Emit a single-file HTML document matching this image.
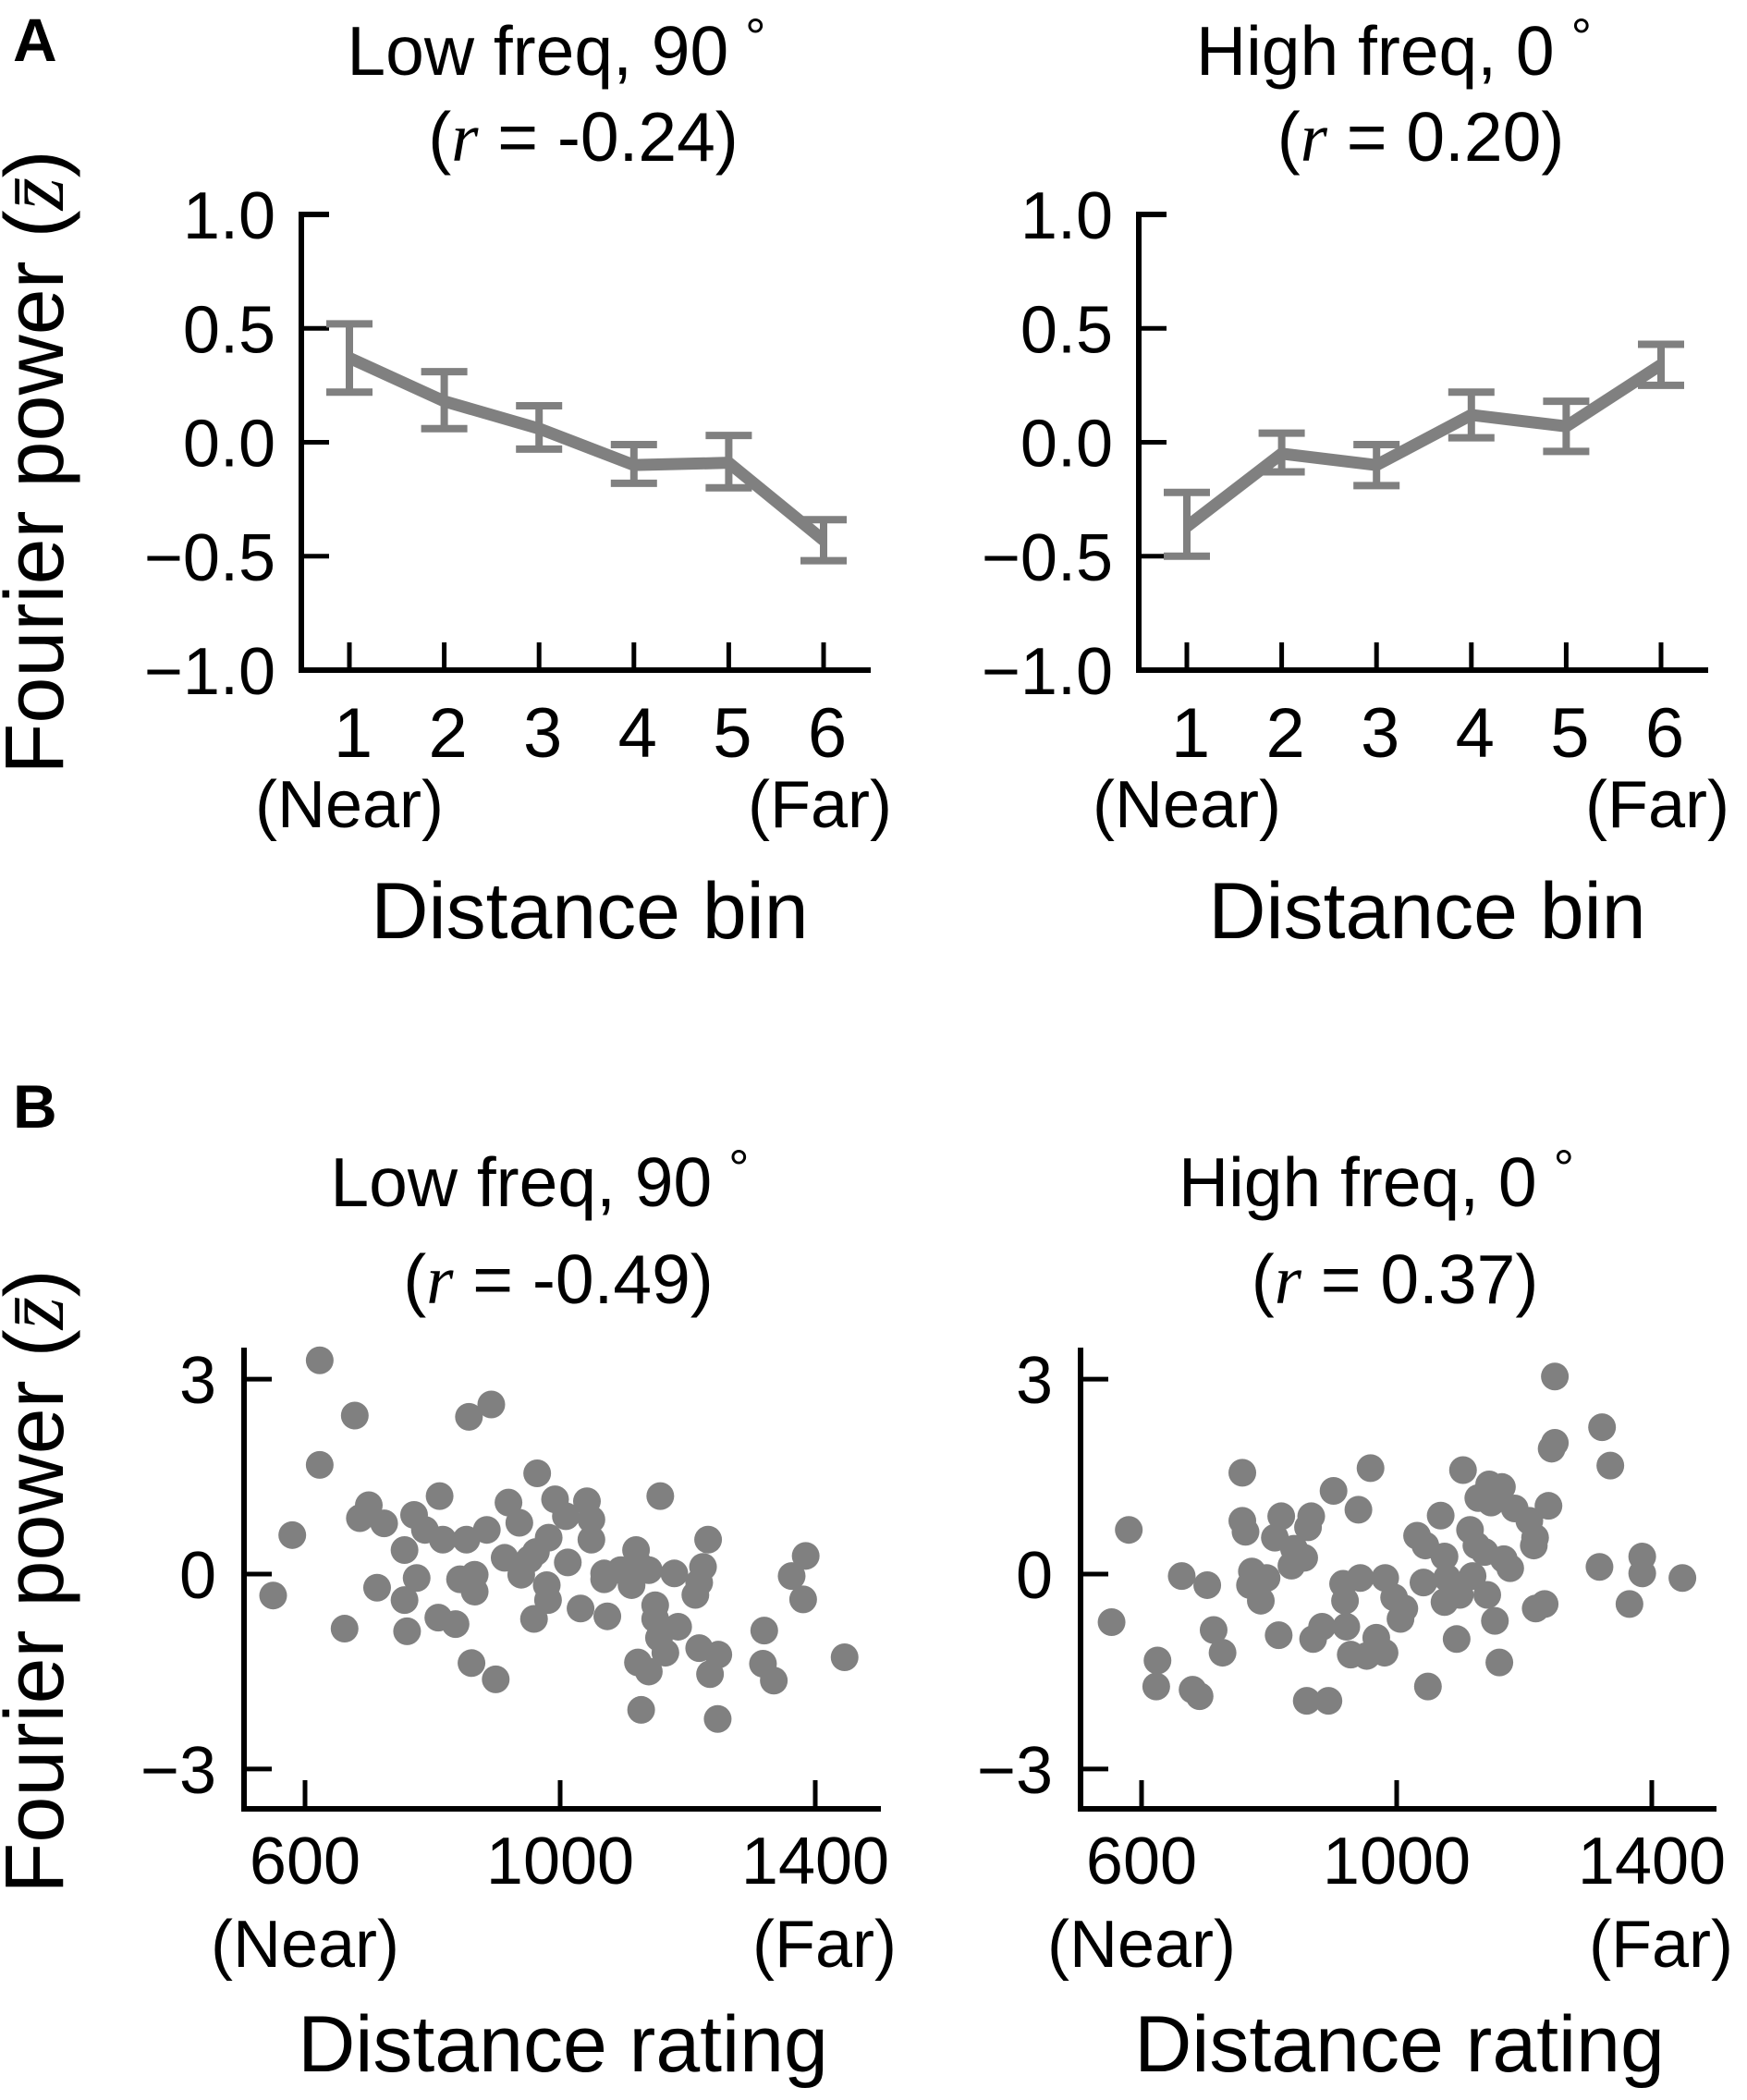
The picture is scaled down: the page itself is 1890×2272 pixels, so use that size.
<!DOCTYPE html>
<html><head><meta charset="utf-8"><style>
html,body{margin:0;padding:0;background:#fff;}
svg{display:block;font-family:"Liberation Sans",Arial,sans-serif;}
.t{font-size:75px;fill:#000;}
.tk{font-size:72px;fill:#000;}
.ax{font-size:86px;fill:#000;}
.m{font-family:"Liberation Serif",serif;font-style:italic;}
</style></head><body>
<svg id="fig" width="1890" height="2272" viewBox="0 0 1890 2272">
<text x="14" y="66" font-size="66" font-weight="bold">A</text>
<text x="14" y="1220" font-size="66" font-weight="bold">B</text>
<text class="ax" style="font-size:90px" transform="translate(68,500) rotate(-90)" text-anchor="middle">Fourier power (<tspan class="m">z̄</tspan>)</text>
<text class="ax" style="font-size:90px" transform="translate(68,1711) rotate(-90)" text-anchor="middle">Fourier power (<tspan class="m">z̄</tspan>)</text>
<g id="layer"></g>
</svg>
<script>
// Panel A: binned data
const bins = [1, 2, 3, 4, 5, 6];
const binLabels = ["1", "2", "3", "4", "5", "6"];
const lowMean = [0.37, 0.18, 0.06, -0.10, -0.09, -0.43];
const lowHi = [0.52, 0.31, 0.16, -0.01, 0.03, -0.34];
const lowLo = [0.22, 0.06, -0.03, -0.18, -0.20, -0.52];
const highMean = [-0.37, -0.05, -0.10, 0.12, 0.07, 0.34];
const highHi = [-0.22, 0.04, -0.01, 0.22, 0.18, 0.43];
const highLo = [-0.50, -0.13, -0.19, 0.02, -0.04, 0.25];
const yTicksA = [1.0, 0.5, 0.0, -0.5, -1.0];
const yTickLabelsA = ["1.0", "0.5", "0.0", "\u22120.5", "\u22121.0"];
// Panel B: scatter data
const lowRating = [623,678,857,892,623,964,811,1157,580,700,686,724,771,788,756,816,853,885,919,936,992,1009,1042,1049,1049,982,913,952,939,1012,775,843,866,866,713,756,550,1232,1119,1224,1385,1363,1381,1069,1095,1112,1139,1179,1212,1218,979,981,959,1032,1074,809,836,662,760,1149,1149,1185,1165,1218,1248,1235,1122,1139,1320,1318,1335,1446,861,899,1127,1247,1155,1069,962,1122];
const lowPower = [3.29,2.44,2.42,2.61,1.68,1.55,1.20,1.20,0.60,1.06,0.86,0.78,0.91,0.68,0.37,0.53,0.53,0.68,1.10,0.79,1.15,0.89,1.12,0.84,0.53,0.56,0.25,0.23,-0.01,0.18,-0.06,-0.08,-0.01,-0.27,-0.21,-0.40,-0.33,0.53,0.37,0.11,0.28,-0.03,-0.39,0.01,0.06,-0.17,0.06,0.01,-0.32,-0.13,-0.17,-0.40,-0.69,-0.53,-0.65,-0.67,-0.77,-0.84,-0.88,-0.48,-0.69,-0.81,-1.21,-1.14,-1.24,-1.54,-1.36,-1.50,-0.87,-1.38,-1.64,-1.28,-1.37,-1.62,-2.09,-2.23,-0.98,-0.08,0.34,0.16];
const highRating = [1248,1322,1248,1243,1335,758,959,1104,901,940,1145,1165,1128,1148,1185,1238,1208,1069,580,758,763,819,866,861,809,839,855,835,1032,1045,1115,1075,1125,1138,1168,1178,1215,1217,1318,1385,1385,1448,663,703,773,796,770,787,1042,1079,1119,1075,1099,1142,916,943,982,919,996,1012,1006,1232,1218,1365,1154,553,713,727,815,883,869,921,928,953,981,968,1094,1161,625,623,680,691,859,893,1049];
const highPower = [3.04,2.26,2.02,1.93,1.67,1.56,1.63,1.60,1.28,0.99,1.38,1.34,1.17,1.10,1.01,1.05,0.82,0.90,0.68,0.82,0.65,0.89,0.89,0.72,0.56,0.39,0.25,0.13,0.59,0.44,0.68,0.27,0.44,0.34,0.23,0.09,0.44,0.56,0.11,0.27,0.01,-0.06,-0.03,-0.17,0.04,-0.06,-0.17,-0.41,-0.13,-0.06,-0.03,-0.43,-0.32,-0.32,-0.15,-0.06,-0.06,-0.41,-0.36,-0.53,-0.69,-0.46,-0.53,-0.46,-0.72,-0.74,-0.86,-1.21,-0.94,-0.81,-1.00,-0.81,-1.24,-1.26,-1.21,-0.98,-1.00,-1.36,-1.33,-1.73,-1.78,-1.88,-1.95,-1.95,-1.73];
const xTicksB = [600, 1000, 1400];
const xTickLabelsB = ["600", "1000", "1400"];
const yTicksB = [3, 0, -3];
const yTickLabelsB = ["3", "0", "\u22123"];

const NS = "http://www.w3.org/2000/svg";
const layer = document.getElementById('layer');
function mk(tag, attrs, parent) {
  const e = document.createElementNS(NS, tag);
  for (const k in attrs) e.setAttribute(k, attrs[k]);
  (parent || layer).appendChild(e);
  return e;
}
function txt(x, y, s, cls, anchor, parent) {
  const t = mk('text', {x: x, y: y, class: cls, 'text-anchor': anchor || 'middle'}, parent);
  t.textContent = s;
  return t;
}
function titleText(x, y, label, g, name) {
  const t = mk('text', {x: x, y: y, class: 't', 'text-anchor': 'middle'}, g);
  
  
  t.innerHTML = label + '<tspan dx="18" dy="-22" font-size="56">\u00b0</tspan>';
  return t;
}

function linePanel(ox, id, title, rText, mean, hi, lo) {
  const g = mk('g', {});
  
  
  const x0 = ox, x1 = ox + 616;
  const xS = b => ox + 52 + (b - 1) * 102.6;
  const yS = v => 478.5 - v * 246.5;
  titleText(x0 + 276, 81, title, g, id + '-title');
  const rt = mk('text', {x: x0 + 305, y: 174, class: 't', 'text-anchor': 'middle'}, g);
  
  
  rt.innerHTML = '(<tspan class="m">r</tspan> = ' + rText + ')';
  const ya = mk('path', {d: `M${x0 + 30},${yS(1)} H${x0} V${yS(-1)} H${x1}`, fill: 'none', stroke: '#000', 'stroke-width': 6}, g);
  
  
  yTicksA.forEach((v, i) => {
    mk('line', {x1: x0, x2: x0 + 30, y1: yS(v), y2: yS(v), stroke: '#000', 'stroke-width': 5}, g);
    const l = txt(x0 - 28, yS(v) + 26, yTickLabelsA[i], 'tk', 'end', g);
    
    
  });
  bins.forEach((b, i) => {
    mk('line', {x1: xS(b), x2: xS(b), y1: yS(-1), y2: yS(-1) - 30, stroke: '#000', 'stroke-width': 5}, g);
    const l = txt(xS(b) + 4, 819, binLabels[i], 'tk', 'middle', g);
    l.setAttribute('style', 'font-size:76px');
    
    
  });
  const n = txt(xS(1), 895, '(Near)', 'tk', 'middle', g);
  
  
  const f = txt(xS(6) - 4, 895, '(Far)', 'tk', 'middle', g);
  
  
  const xl = txt(x0 + 312, 1015, 'Distance bin', 'ax', 'middle', g);
  
  
  bins.forEach((b, i) => {
    const eb = mk('path', {d: `M${xS(b)},${yS(hi[i])} V${yS(lo[i])} M${xS(b) - 25},${yS(hi[i])} h50 M${xS(b) - 25},${yS(lo[i])} h50`, stroke: '#808080', 'stroke-width': 8, fill: 'none'}, g);
    
    
  });
  const pts = bins.map((b, i) => xS(b) + ',' + yS(mean[i])).join(' ');
  const pl = mk('polyline', {points: pts, fill: 'none', stroke: '#808080', 'stroke-width': 13, 'stroke-linejoin': 'round'}, g);
  
  
}

function scatterPanel(ox, id, title, rText, xs, ys, tickRight, xAxisEnd) {
  const g = mk('g', {});
  
  
  const xS = v => tickRight + (v - 600) * (276 / 400);
  const yS = v => 1703 - v * 70.3;
  titleText(ox + 320, 1305, title, g, id + '-title');
  const rt = mk('text', {x: ox + 340, y: 1410, class: 't', 'text-anchor': 'middle'}, g);
  
  
  rt.innerHTML = '(<tspan class="m">r</tspan> = ' + rText + ')';
  const ax = mk('path', {d: `M${ox},1458 V1957 H${xAxisEnd}`, fill: 'none', stroke: '#000', 'stroke-width': 6}, g);
  
  
  yTicksB.forEach((v, i) => {
    mk('line', {x1: ox, x2: ox + 30, y1: yS(v), y2: yS(v), stroke: '#000', 'stroke-width': 5}, g);
    const l = txt(ox - 30, yS(v) + 26, yTickLabelsB[i], 'tk', 'end', g);
    
    
  });
  xTicksB.forEach((v, i) => {
    mk('line', {x1: xS(v), x2: xS(v), y1: 1957, y2: 1926, stroke: '#000', 'stroke-width': 5}, g);
    const l = txt(xS(v), 2038, xTickLabelsB[i], 'tk', 'middle', g);
    
    
  });
  const n = txt(xS(600), 2128, '(Near)', 'tk', 'middle', g);
  
  
  const f = txt(xS(1400) + 10, 2128, '(Far)', 'tk', 'middle', g);
  
  
  const xl = txt(ox + 345, 2241, 'Distance rating', 'ax', 'middle', g);
  
  
  xs.forEach((v, i) => {
    const c = mk('circle', {cx: xS(v), cy: yS(ys[i]), r: 15, fill: '#808080'}, g);
    
    
  });
}

linePanel(326, 'low-freq-bin', 'Low freq, 90', '-0.24', lowMean, lowHi, lowLo);
linePanel(1232, 'high-freq-bin', 'High freq, 0', '0.20', highMean, highHi, highLo);
scatterPanel(264, 'low-freq-scatter', 'Low freq, 90', '-0.49', lowRating, lowPower, 330, 953);
scatterPanel(1169, 'high-freq-scatter', 'High freq, 0', '0.37', highRating, highPower, 1235, 1857);
</script>
</body></html>
